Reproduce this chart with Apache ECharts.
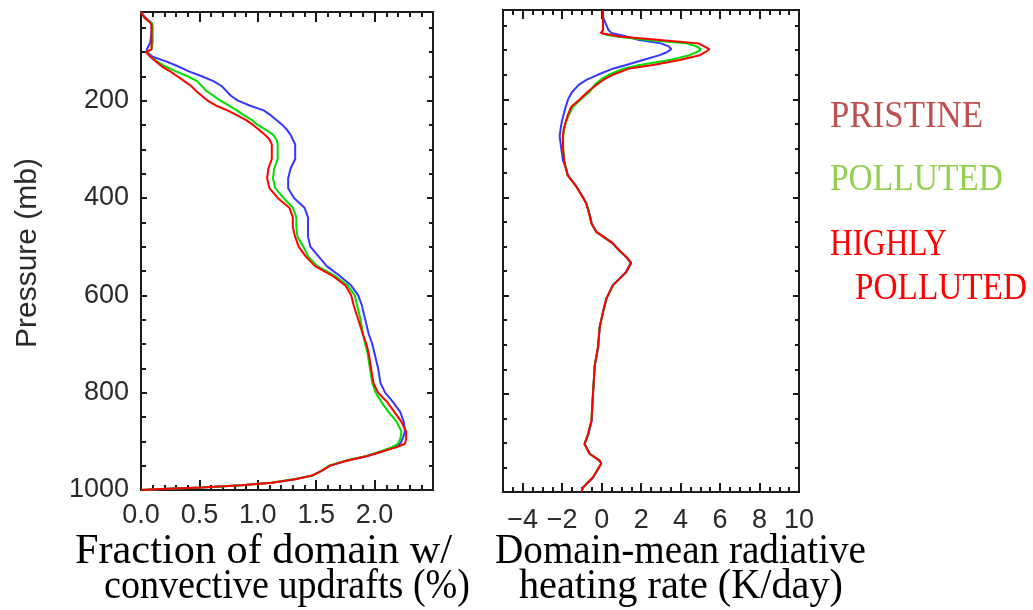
<!DOCTYPE html>
<html><head><meta charset="utf-8">
<script src="https://cdn.jsdelivr.net/npm/echarts@6/dist/echarts.min.js"></script>
<style>html,body{margin:0;padding:0;background:#fff}#c{width:1033px;height:610px}</style>
</head><body><div id="c"></div>
<script>
// ---------- data ----------
const leftLevels = [18,30,40,45,60,80,95,100,
  110,120,130,140,150,160,170,180,190,200,210,220,230,240,250,260,270,280,290,300,
  320,340,360,380,400,420,440,460,480,500,520,540,560,580,600,
  620,650,680,700,720,750,780,800,
  820,840,860,880,
  895,905,912,920,930,940,950,960,970,
  978,985,990,995,998,1000];
const leftPristine = [0.00,0.04,0.09,0.09,0.09,0.08,0.05,0.05,
  0.10,0.22,0.32,0.41,0.52,0.62,0.69,0.73,0.77,0.83,0.93,1.05,1.11,1.16,1.21,1.25,1.28,1.30,1.32,1.32,
  1.32,1.28,1.26,1.26,1.31,1.40,1.43,1.43,1.43,1.45,1.52,1.59,1.70,1.80,1.86,
  1.89,1.92,1.95,1.98,2.00,2.03,2.05,2.09,
  2.16,2.22,2.25,2.26,
  2.24,2.22,2.16,2.07,1.94,1.76,1.62,1.55,1.47,
  1.32,1.12,0.86,0.52,0.18,0.00];
const leftPolluted = [0.00,0.03,0.09,0.10,0.10,0.10,0.09,0.05,
  0.08,0.14,0.21,0.30,0.40,0.48,0.52,0.56,0.62,0.68,0.75,0.82,0.88,0.95,1.00,1.07,1.13,1.16,1.17,1.17,
  1.17,1.14,1.13,1.15,1.22,1.30,1.33,1.33,1.34,1.39,1.43,1.51,1.66,1.77,1.83,
  1.85,1.88,1.90,1.92,1.94,1.96,1.98,2.01,
  2.06,2.12,2.19,2.23,
  2.22,2.20,2.15,2.06,1.93,1.75,1.61,1.55,1.47,
  1.31,1.11,0.86,0.52,0.18,0.00];
const leftHighly = [0.00,0.03,0.08,0.09,0.09,0.09,0.09,0.04,
  0.08,0.13,0.18,0.25,0.31,0.37,0.43,0.47,0.52,0.57,0.64,0.74,0.82,0.90,0.96,1.01,1.06,1.10,1.12,1.12,
  1.12,1.09,1.08,1.10,1.17,1.27,1.30,1.30,1.32,1.35,1.41,1.49,1.64,1.75,1.80,
  1.82,1.86,1.90,1.93,1.95,1.97,1.99,2.03,
  2.11,2.17,2.23,2.27,
  2.27,2.26,2.19,2.08,1.94,1.76,1.62,1.55,1.47,
  1.32,1.12,0.86,0.52,0.18,0.00];

const rightLevels = [18,33,59,65,69,72,79,86,92,98,
  104,110,120,130,137,150,160,170,185,200,
  215,230,245,260,275,300,325,340,355,378,
  400,412,435,453,470,493,508,521,533,552,
  579,606,633,664,705,742,800,855,882,902,
  922,936,942,970,991,1000];
const rightPristine = [0.07,0.07,0.35,0.50,0.60,1.25,1.90,3.00,3.40,3.53,
  3.30,2.94,2.09,1.25,0.60,-0.20,-0.75,-1.15,-1.50,-1.70,
  -1.82,-1.92,-2.02,-2.08,-2.13,-2.05,-1.96,-1.80,-1.70,-1.28,
  -0.93,-0.78,-0.60,-0.50,-0.27,0.54,0.88,1.22,1.48,1.22,
  0.55,0.24,0.07,-0.10,-0.17,-0.35,-0.44,-0.50,-0.67,-0.88,
  -0.61,-0.12,-0.02,-0.42,-0.95,-1.03];
const rightPolluted = [0.07,0.07,0.07,0.00,0.30,0.74,2.30,4.30,4.80,5.05,
  4.80,4.46,3.45,1.93,1.15,0.35,-0.05,-0.35,-0.62,-1.05,
  -1.45,-1.64,-1.80,-1.90,-1.95,-1.95,-1.90,-1.82,-1.72,-1.28,
  -0.95,-0.76,-0.62,-0.52,-0.27,0.56,0.90,1.25,1.50,1.25,
  0.57,0.24,0.08,-0.10,-0.19,-0.35,-0.44,-0.52,-0.69,-0.86,
  -0.61,-0.10,-0.02,-0.44,-0.96,-1.03];
const rightHighly = [0.07,0.07,0.07,-0.05,0.05,0.91,2.94,4.90,5.20,5.47,
  5.25,4.97,3.95,2.60,1.42,0.56,0.10,-0.25,-0.72,-1.10,
  -1.54,-1.70,-1.82,-1.92,-1.97,-1.96,-1.90,-1.82,-1.72,-1.28,
  -0.95,-0.78,-0.62,-0.52,-0.27,0.56,0.90,1.25,1.50,1.25,
  0.57,0.24,0.07,-0.10,-0.19,-0.35,-0.44,-0.52,-0.69,-0.86,
  -0.61,-0.10,-0.02,-0.44,-0.95,-1.03];

// ---------- ticks and labels ----------
const pressureLabels = [200,400,600,800,1000];
const pressureMajor = [200,400,600,800];
const pressureMinor = [50,100,150,250,300,350,450,500,550,650,700,750,850,900,950];
const fracLabels = [0,0.5,1,1.5,2];
const fracMajor = [0.5,1,1.5,2];
const fracMinor = [0.1,0.2,0.3,0.4,0.6,0.7,0.8,0.9,1.1,1.2,1.3,1.4,1.6,1.7,1.8,1.9,2.1,2.2,2.3,2.4];
const heatLabels = [-4,-2,0,2,4,6,8,10];
const heatMajor = [-4,-2,0,2,4,6,8];
const heatMinor = [-4.5,-3.5,-3,-2.5,-1.5,-1,-0.5,0.5,1,1.5,2.5,3,3.5,4.5,5,5.5,6.5,7,7.5,8.5,9,9.5];

const seriesNames = ['PRISTINE','POLLUTED','HIGHLY POLLUTED'];
const lineColors = ['#3636ff','#00dd00','#ff0000'];

// ---------- chart ----------
const ink = '#1a1a1a';
const tickFont = {fontFamily:'"Liberation Sans", Arial, sans-serif', fontSize:27, color:'#2a2a2a'};

function axis(kind, grid, pos, min, max, ticks, len, labels, fmt, margin, inverse){
  const a = {type:'value', gridIndex:grid, position:pos, min:min, max:max, inverse:!!inverse,
    axisLine:{show:true, onZero:false, lineStyle:{color:ink, width:2}},
    axisTick:{show:true, inside:true, length:len, customValues:ticks, lineStyle:{color:ink, width:2}},
    splitLine:{show:false}, minorTick:{show:false}};
  if (labels) {
    a.axisLabel = Object.assign({show:true, customValues:labels, margin:margin, formatter:fmt}, tickFont);
  } else {
    a.axisLabel = {show:false};
  }
  return a;
}

const pMin = 18, pMax = 1000;
const xAxes = [
  axis('x',0,'bottom',0,2.5,fracMajor,10,fracLabels,v=>v.toFixed(1),12),
  axis('x',0,'bottom',0,2.5,fracMinor,5),
  axis('x',0,'top',0,2.5,fracMajor,10),
  axis('x',0,'top',0,2.5,fracMinor,5),
  axis('x',1,'bottom',-5,10,heatMajor,9,heatLabels,v=>String(v).replace('-','\u2212'),15),
  axis('x',1,'bottom',-5,10,heatMinor,5),
  axis('x',1,'top',-5,10,heatMajor,9),
  axis('x',1,'top',-5,10,heatMinor,5)
];
const yAxes = [
  axis('y',0,'left',pMin,pMax,pressureMajor,6,pressureLabels,v=>String(v),12,true),
  axis('y',0,'left',pMin,pMax,pressureMinor,5,null,null,0,true),
  axis('y',0,'right',pMin,pMax,pressureMajor,6,null,null,0,true),
  axis('y',0,'right',pMin,pMax,pressureMinor,4,null,null,0,true),
  axis('y',1,'left',pMin,pMax,pressureMajor,6,null,null,0,true),
  axis('y',1,'left',pMin,pMax,pressureMinor,4,null,null,0,true),
  axis('y',1,'right',pMin,pMax,pressureMajor,6,null,null,0,true),
  axis('y',1,'right',pMin,pMax,pressureMinor,4,null,null,0,true)
];

function mk(name, color, levels, vals, gi){
  return {name:name, type:'line', xAxisIndex:gi*4, yAxisIndex:gi*4,
    data: levels.map((p,i)=>[vals[i], p]),
    showSymbol:false, symbol:'none', animation:false, silent:true,
    lineStyle:{color:color, width:2}, itemStyle:{color:color}, z:3};
}
const series = [
  mk(seriesNames[0], lineColors[0], leftLevels, leftPristine, 0),
  mk(seriesNames[1], lineColors[1], leftLevels, leftPolluted, 0),
  mk(seriesNames[2], lineColors[2], leftLevels, leftHighly, 0),
  mk(seriesNames[0], lineColors[0], rightLevels, rightPristine, 1),
  mk(seriesNames[1], lineColors[1], rightLevels, rightPolluted, 1),
  mk(seriesNames[2], lineColors[2], rightLevels, rightHighly, 1)
];

// text helper: fit text to a target width by horizontal scaling
const mcv = document.createElement('canvas').getContext('2d');
function txt(str, left, right, baseline, size, family, color){
  const font = size + 'px ' + family;
  mcv.font = font;
  const w = mcv.measureText(str).width;
  let s = (right - left) / w;
  s = Math.max(0.8, Math.min(1.15, s));
  return {type:'text', x:(left+right)/2, y:baseline - 0.33*size, scaleX:s, z:10, silent:true,
    style:{text:str, font:font, fill:color, textAlign:'center', textVerticalAlign:'middle', align:'center', verticalAlign:'middle'}};
}
const serif = '"Liberation Serif", "DejaVu Serif", serif';
const legendColors = ['#c0504d','#92d050','#ff0000'];

const graphics = [
  {type:'text', x:28, y:253, rotation:Math.PI/2, z:10, silent:true,
   style:{text:'Pressure (mb)', font:'30px "Liberation Sans", Arial, sans-serif', fill:'#2a2a2a',
     textAlign:'center', textVerticalAlign:'middle', align:'center', verticalAlign:'middle'}},
  txt('Fraction of domain w/', 75, 452, 566, 42, serif, '#000'),
  txt('convective updrafts (%)', 104, 470, 601, 42, serif, '#000'),
  txt('Domain-mean radiative', 495, 866, 566, 42, serif, '#000'),
  txt('heating rate (K/day)', 519, 843, 601, 42, serif, '#000'),
  txt('PRISTINE', 830, 983, 130, 38, serif, legendColors[0]),
  txt('POLLUTED', 830, 1003, 193, 38, serif, legendColors[1]),
  txt('HIGHLY', 830, 947, 258, 38, serif, legendColors[2]),
  txt('POLLUTED', 855, 1027, 302, 38, serif, legendColors[2])
];

const chart = echarts.init(document.getElementById('c'), null, {renderer:'canvas'});
chart.setOption({
  animation:false,
  backgroundColor:'#ffffff',
  grid:[
    {left:141, top:12, width:292, height:478},
    {left:503, top:10, width:296, height:482}
  ],
  xAxis:xAxes, yAxis:yAxes, series:series, graphic:graphics
});
</script></body></html>
